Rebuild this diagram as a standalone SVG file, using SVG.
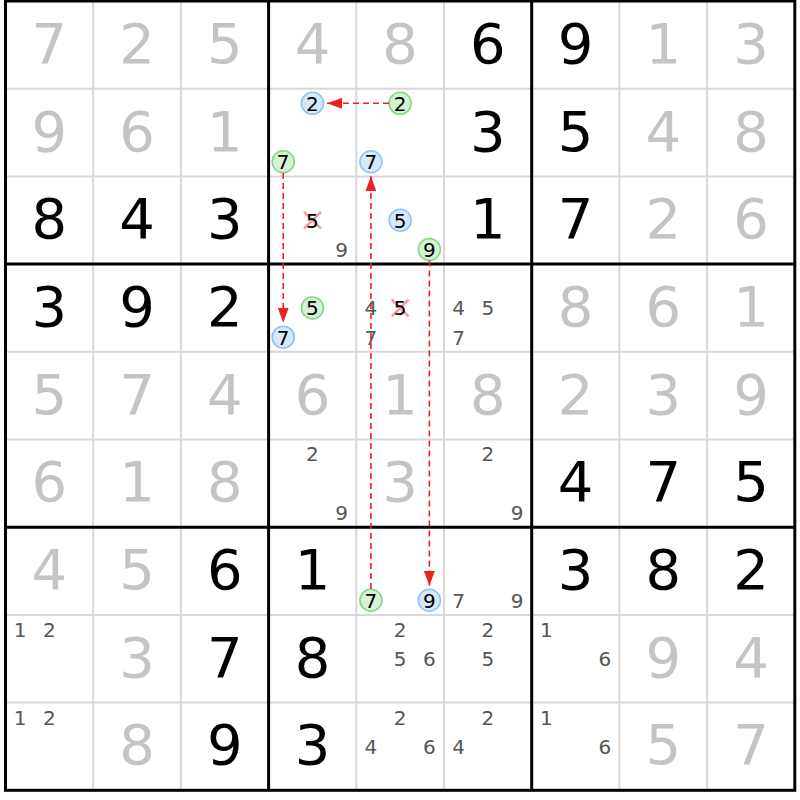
<svg xmlns="http://www.w3.org/2000/svg" width="800" height="800" viewBox="0 0 800 800">
<style>
.bg{fill:#ffffff}
.thin{stroke:#d8d8d8;stroke-width:2;fill:none}
.thick{stroke:#000000;stroke-width:3;fill:none}
text{font-family:"DejaVu Sans",Verdana,sans-serif;text-anchor:middle}
.g{font-size:56px;fill:#c4c4c4}
.b{font-size:56px;fill:#000000}
.c{font-size:20px;fill:#555555}
.k{font-size:20px;fill:#000000}
.blue{fill:#d6e8fb;stroke:#8ec3f2;stroke-width:1.6}
.green{fill:#d4f2d4;stroke:#86d686;stroke-width:1.6}
.x{stroke:#f08c8c;stroke-width:2.5;stroke-opacity:0.85}
.arrow{stroke:#ee2020;stroke-width:1.6;stroke-dasharray:6 4;fill:none}
</style>
<defs>
<marker id="ah" markerUnits="userSpaceOnUse" markerWidth="15" markerHeight="11" refX="15" refY="5.5" orient="auto">
<path d="M0,0 L15,5.5 L0,11 Z" fill="#ee2020"/>
</marker>
</defs>
<rect class="bg" x="0" y="0" width="800" height="800"/>
<g id="grid">
<path class="thin" d="M93.2,1V790.3M180.9,1V790.3M356.3,1V790.3M444,1V790.3M619.4,1V790.3M707.1,1V790.3M5.5,88.7H794.8M5.5,176.4H794.8M5.5,351.8H794.8M5.5,439.5H794.8M5.5,614.9H794.8M5.5,702.6H794.8"/>
<path class="thick" d="M268.6,1V790.3M531.7,1V790.3M5.5,264.1H794.8M5.5,527.2H794.8"/>
<rect class="thick" x="5.5" y="1" width="789.3" height="789.3"/>
</g>
<g id="row0">
<text class="g" x="49.35" y="62.85">7</text><text class="g" x="137.05" y="62.85">2</text><text class="g" x="224.75" y="62.85">5</text>
<text class="g" x="312.45" y="62.85">4</text><text class="g" x="400.15" y="62.85">8</text><text class="b" x="487.85" y="62.85">6</text>
<text class="b" x="575.55" y="62.85">9</text><text class="g" x="663.25" y="62.85">1</text><text class="g" x="750.95" y="62.85">3</text>
</g>
<g id="row1">
<text class="g" x="49.35" y="150.55">9</text><text class="g" x="137.05" y="150.55">6</text><text class="g" x="224.75" y="150.55">1</text>
<text class="b" x="487.85" y="150.55">3</text>
<text class="b" x="575.55" y="150.55">5</text><text class="g" x="663.25" y="150.55">4</text><text class="g" x="750.95" y="150.55">8</text>
</g>
<g id="r1c3">
<circle class="blue" cx="312.45" cy="103.32" r="11"/><text class="k" x="312.45" y="110.6">2</text>
<circle class="green" cx="283.22" cy="161.78" r="11"/><text class="k" x="283.22" y="169.1">7</text>
</g>
<g id="r1c4">
<circle class="green" cx="400.15" cy="103.32" r="11"/><text class="k" x="400.15" y="110.6">2</text>
<circle class="blue" cx="370.92" cy="161.78" r="11"/><text class="k" x="370.92" y="169.1">7</text>
</g>
<g id="row2">
<text class="b" x="49.35" y="238.25">8</text><text class="b" x="137.05" y="238.25">4</text><text class="b" x="224.75" y="238.25">3</text>
<text class="b" x="487.85" y="238.25">1</text>
<text class="b" x="575.55" y="238.25">7</text><text class="g" x="663.25" y="238.25">2</text><text class="g" x="750.95" y="238.25">6</text>
</g>
<g id="r2c3">
<path class="x" d="M304,211.8L321,228.7M321,211.8L304,228.7"/>
<text class="k" x="312.45" y="227.55">5</text>
<text class="c" x="341.68" y="256.8">9</text>
</g>
<g id="r2c4">
<circle class="blue" cx="400.15" cy="220.25" r="11"/><text class="k" x="400.15" y="227.55">5</text>
<circle class="green" cx="429.38" cy="249.48" r="11"/><text class="k" x="429.38" y="256.8">9</text>
</g>
<g id="row3">
<text class="b" x="49.35" y="325.95">3</text><text class="b" x="137.05" y="325.95">9</text><text class="b" x="224.75" y="325.95">2</text>
<text class="g" x="575.55" y="325.95">8</text><text class="g" x="663.25" y="325.95">6</text><text class="g" x="750.95" y="325.95">1</text>
</g>
<g id="r3c3">
<circle class="green" cx="312.45" cy="307.95" r="11"/><text class="k" x="312.45" y="315.25">5</text>
<circle class="blue" cx="283.22" cy="337.18" r="11"/><text class="k" x="283.22" y="344.5">7</text>
</g>
<g id="r3c4">
<text class="c" x="370.92" y="315.25">4</text>
<path class="x" d="M391.7,299.5L408.6,316.4M408.6,299.5L391.7,316.4"/>
<text class="k" x="400.15" y="315.25">5</text>
<text class="c" x="370.92" y="344.5">7</text>
</g>
<g id="r3c5">
<text class="c" x="458.62" y="315.25">4</text><text class="c" x="487.85" y="315.25">5</text><text class="c" x="458.62" y="344.5">7</text>
</g>
<g id="row4">
<text class="g" x="49.35" y="413.65">5</text><text class="g" x="137.05" y="413.65">7</text><text class="g" x="224.75" y="413.65">4</text>
<text class="g" x="312.45" y="413.65">6</text><text class="g" x="400.15" y="413.65">1</text><text class="g" x="487.85" y="413.65">8</text>
<text class="g" x="575.55" y="413.65">2</text><text class="g" x="663.25" y="413.65">3</text><text class="g" x="750.95" y="413.65">9</text>
</g>
<g id="row5">
<text class="g" x="49.35" y="501.35">6</text><text class="g" x="137.05" y="501.35">1</text><text class="g" x="224.75" y="501.35">8</text>
<text class="g" x="400.15" y="501.35">3</text>
<text class="b" x="575.55" y="501.35">4</text><text class="b" x="663.25" y="501.35">7</text><text class="b" x="750.95" y="501.35">5</text>
</g>
<g id="r5c3">
<text class="c" x="312.45" y="461.4">2</text><text class="c" x="341.68" y="519.9">9</text>
</g>
<g id="r5c5">
<text class="c" x="487.85" y="461.4">2</text><text class="c" x="517.08" y="519.9">9</text>
</g>
<g id="row6">
<text class="g" x="49.35" y="589.05">4</text><text class="g" x="137.05" y="589.05">5</text><text class="b" x="224.75" y="589.05">6</text>
<text class="b" x="312.45" y="589.05">1</text>
<text class="b" x="575.55" y="589.05">3</text><text class="b" x="663.25" y="589.05">8</text><text class="b" x="750.95" y="589.05">2</text>
</g>
<g id="r6c4">
<circle class="green" cx="370.92" cy="600.28" r="11"/><text class="k" x="370.92" y="607.6">7</text>
<circle class="blue" cx="429.38" cy="600.28" r="11"/><text class="k" x="429.38" y="607.6">9</text>
</g>
<g id="r6c5">
<text class="c" x="458.62" y="607.6">7</text><text class="c" x="517.08" y="607.6">9</text>
</g>
<g id="row7">
<text class="c" x="20.12" y="636.8">1</text><text class="c" x="49.35" y="636.8">2</text>
<text class="g" x="137.05" y="676.75">3</text><text class="b" x="224.75" y="676.75">7</text>
<text class="b" x="312.45" y="676.75">8</text>
<text class="g" x="663.25" y="676.75">9</text><text class="g" x="750.95" y="676.75">4</text>
</g>
<g id="r7c4">
<text class="c" x="400.15" y="636.8">2</text><text class="c" x="400.15" y="666.05">5</text><text class="c" x="429.38" y="666.05">6</text>
</g>
<g id="r7c5">
<text class="c" x="487.85" y="636.8">2</text><text class="c" x="487.85" y="666.05">5</text>
</g>
<g id="r7c6">
<text class="c" x="546.32" y="636.8">1</text><text class="c" x="604.78" y="666.05">6</text>
</g>
<g id="row8">
<text class="c" x="20.12" y="724.5">1</text><text class="c" x="49.35" y="724.5">2</text>
<text class="g" x="137.05" y="764.45">8</text><text class="b" x="224.75" y="764.45">9</text>
<text class="b" x="312.45" y="764.45">3</text>
<text class="g" x="663.25" y="764.45">5</text><text class="g" x="750.95" y="764.45">7</text>
</g>
<g id="r8c4">
<text class="c" x="400.15" y="724.5">2</text><text class="c" x="370.92" y="753.75">4</text><text class="c" x="429.38" y="753.75">6</text>
</g>
<g id="r8c5">
<text class="c" x="487.85" y="724.5">2</text><text class="c" x="458.62" y="753.75">4</text>
</g>
<g id="r8c6">
<text class="c" x="546.32" y="724.5">1</text><text class="c" x="604.78" y="753.75">6</text>
</g>
<g id="connectors">
<line class="arrow" x1="389" y1="103.32" x2="327" y2="103.32" marker-end="url(#ah)"/>
<line class="arrow" x1="283.22" y1="173" x2="283.22" y2="322.7" marker-end="url(#ah)"/>
<line class="arrow" x1="370.92" y1="589" x2="370.92" y2="176.3" marker-end="url(#ah)"/>
<line class="arrow" x1="429.38" y1="260.5" x2="429.38" y2="585.8" marker-end="url(#ah)"/>
</g>
</svg>
